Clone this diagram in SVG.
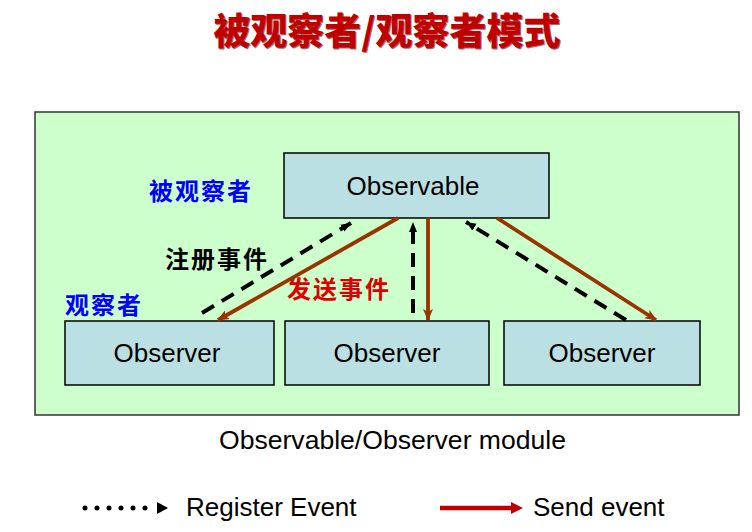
<svg xmlns="http://www.w3.org/2000/svg" width="752" height="532" viewBox="0 0 752 532">
<style>
.box{fill:#bbe0e3;stroke:#000;stroke-width:1.5}
.lbl{font-family:"Liberation Sans",Arial,sans-serif;font-size:26px;fill:#000;text-anchor:middle}
.cjk{font-family:"Noto Sans CJK SC",sans-serif;font-size:24px;font-weight:bold;letter-spacing:2px}
.send{fill:none;stroke:#993300;stroke-width:3.8;marker-end:url(#sendHead)}
.reg{fill:none;stroke:#000;stroke-width:4;stroke-dasharray:14 9;marker-end:url(#regHead)}
</style>
<defs>
<marker id="sendHead" markerUnits="userSpaceOnUse" markerWidth="12" markerHeight="10" refX="11" refY="5" orient="auto">
<path d="M0,0 L12,5 L0,10 L3,5 Z" fill="#993300"/>
</marker>
<marker id="regHead" markerUnits="userSpaceOnUse" markerWidth="10" markerHeight="10" refX="10" refY="5" orient="auto">
<path d="M0,1 L10,5 L0,9 Z" fill="#000"/>
</marker>
</defs>
<rect width="752" height="532" fill="#fff"/>
<g id="title">
<text x="387" y="45" text-anchor="middle" font-family="'Noto Sans CJK SC',sans-serif" font-size="37" font-weight="900" fill="#7a0000" opacity="0.6" transform="translate(1,1)">被观察者/观察者模式</text>
<text x="387" y="45" text-anchor="middle" font-family="'Noto Sans CJK SC',sans-serif" font-size="37" font-weight="900" fill="#c00000">被观察者/观察者模式</text>
</g>
<g id="module">
<rect x="35" y="112" width="704" height="303" fill="#ccffcc" stroke="#333" stroke-width="1.5"/>
</g>
<g id="observable">
<rect class="box" x="284" y="153" width="265" height="65"/>
<text class="lbl" x="413" y="195">Observable</text>
</g>
<g id="observer1">
<rect class="box" x="65" y="321" width="209" height="64"/>
<text class="lbl" x="167" y="362">Observer</text>
</g>
<g id="observer2">
<rect class="box" x="285" y="321" width="204" height="64"/>
<text class="lbl" x="387" y="362">Observer</text>
</g>
<g id="observer3">
<rect class="box" x="504" y="321" width="196" height="64"/>
<text class="lbl" x="602" y="362">Observer</text>
</g>
<g id="labels">
<text class="cjk" x="149" y="200" fill="#0000ff">被观察者</text>
<text class="cjk" x="165" y="268" fill="#000">注册事件</text>
<text class="cjk" x="287" y="298" fill="#dd0000">发送事件</text>
<text class="cjk" x="65" y="314" fill="#0000ff">观察者</text>
</g>
<g id="connectors">
<path class="send" d="M398,218 L218,320"/>
<path class="send" d="M428,218 L428,320"/>
<path class="send" d="M497,218 L656,320"/>
<path class="reg" d="M202,313 L351,223"/>
<path class="reg" d="M413,313 L413,222"/>
<path class="reg" d="M626,320 L466,222"/>
</g>
<g id="caption">
<text x="219" y="449" font-family="'Liberation Sans',Arial,sans-serif" font-size="26" textLength="347" lengthAdjust="spacingAndGlyphs" fill="#000">Observable/Observer module</text>
</g>
<g id="legend">
<line x1="85" y1="508" x2="157" y2="508" stroke="#000" stroke-width="5" stroke-linecap="round" stroke-dasharray="0 12"/>
<path d="M157,502 L168,508 L157,514 Z" fill="#000"/>
<text x="186" y="516" font-family="'Liberation Sans',Arial,sans-serif" font-size="26" fill="#000">Register Event</text>
<line x1="440" y1="508" x2="514" y2="508" stroke="#c00000" stroke-width="4.5"/>
<path d="M511,502 L523,508 L511,514 Z" fill="#c00000"/>
<text x="533" y="516" font-family="'Liberation Sans',Arial,sans-serif" font-size="26" fill="#000">Send event</text>
</g>
</svg>
